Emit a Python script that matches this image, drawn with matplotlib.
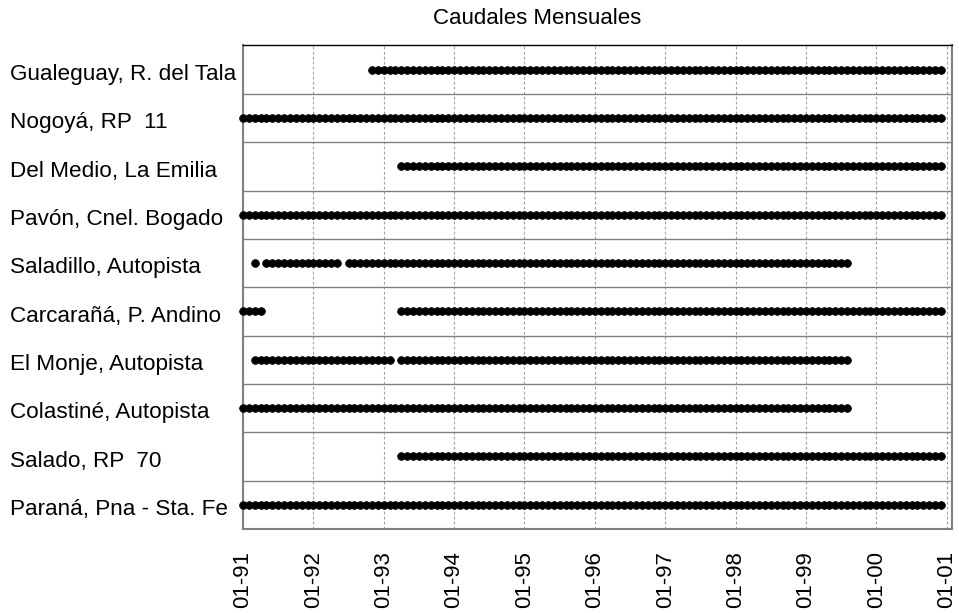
import numpy as np
import matplotlib
matplotlib.use('Agg')
import matplotlib.pyplot as plt
from matplotlib.transforms import blended_transform_factory

plt.rcParams['font.family'] = ['Liberation Sans', 'DejaVu Sans']

# stations, top to bottom
stations = ['Gualeguay, R. del Tala', 'Nogoyá, RP  11', 'Del Medio, La Emilia',
            'Pavón, Cnel. Bogado', 'Saladillo, Autopista', 'Carcarañá, P. Andino',
            'El Monje, Autopista', 'Colastiné, Autopista', 'Salado, RP  70',
            'Paraná, Pna - Sta. Fe']

# periods with monthly data (first month, last month), 'YYYY-MM'
periods = [
    [('1992-11', '2000-12')],
    [('1991-01', '2000-12')],
    [('1993-04', '2000-12')],
    [('1991-01', '2000-12')],
    [('1991-03', '1991-03'), ('1991-05', '1992-05'), ('1992-07', '1999-08')],
    [('1991-01', '1991-04'), ('1993-04', '2000-12')],
    [('1991-03', '1993-02'), ('1993-04', '1999-08')],
    [('1991-01', '1999-08')],
    [('1993-04', '2000-12')],
    [('1991-01', '2000-12')],
]

tick_labels = ['01-91', '01-92', '01-93', '01-94', '01-95', '01-96',
               '01-97', '01-98', '01-99', '01-00', '01-01']


def month_index(s):
    y, m = s.split('-')
    return (int(y) - 1991) * 12 + int(m) - 1


fig = plt.figure(figsize=(9.59, 6.13), dpi=100)
ax = fig.add_axes([0.2534, 0.137, 0.7393, 0.7888])

n = len(stations)
for i, segs in enumerate(periods):
    yv = n - 1 - i + 0.5
    months = []
    for a, b in segs:
        months.extend(range(month_index(a), month_index(b) + 1))
    months = np.array(months)
    ax.plot(months, np.full(len(months), yv), 'o', color='black',
            markersize=5.6, markeredgewidth=0.5, clip_on=False, zorder=3)

ax.set_xlim(0, 120.9)
ax.set_ylim(0, n)

# row separators
for k in range(1, n):
    ax.axhline(k, color='#808080', lw=1.0, zorder=1)

# yearly dotted grid
xt = np.arange(0, 121, 12)
for x in xt[1:]:
    ax.axvline(x, color='#a0a0a0', lw=0.8, linestyle=(0, (2.5, 2)), zorder=0)

ax.set_xticks(xt)
ax.set_xticklabels(tick_labels, rotation=90, fontsize=16)
ax.tick_params(axis='x', length=0, pad=16)
ax.set_yticks([])

for side in ['left', 'right', 'bottom']:
    ax.spines[side].set_color('#808080')
    ax.spines[side].set_linewidth(1.5)
ax.spines['top'].set_color('black')
ax.spines['top'].set_linewidth(1.0)

# station labels
tr = blended_transform_factory(fig.transFigure, ax.transData)
for i, name in enumerate(stations):
    yv = n - 1 - i + 0.5
    ax.text(10 / 959, yv - 0.213, name, transform=tr, ha='left',
            va='baseline', fontsize=16.2)

fig.text(536.7 / 959, 1 - 18 / 613, 'Caudales Mensuales', ha='center',
         va='center', fontsize=16)

fig.savefig('out.png', dpi=100)
